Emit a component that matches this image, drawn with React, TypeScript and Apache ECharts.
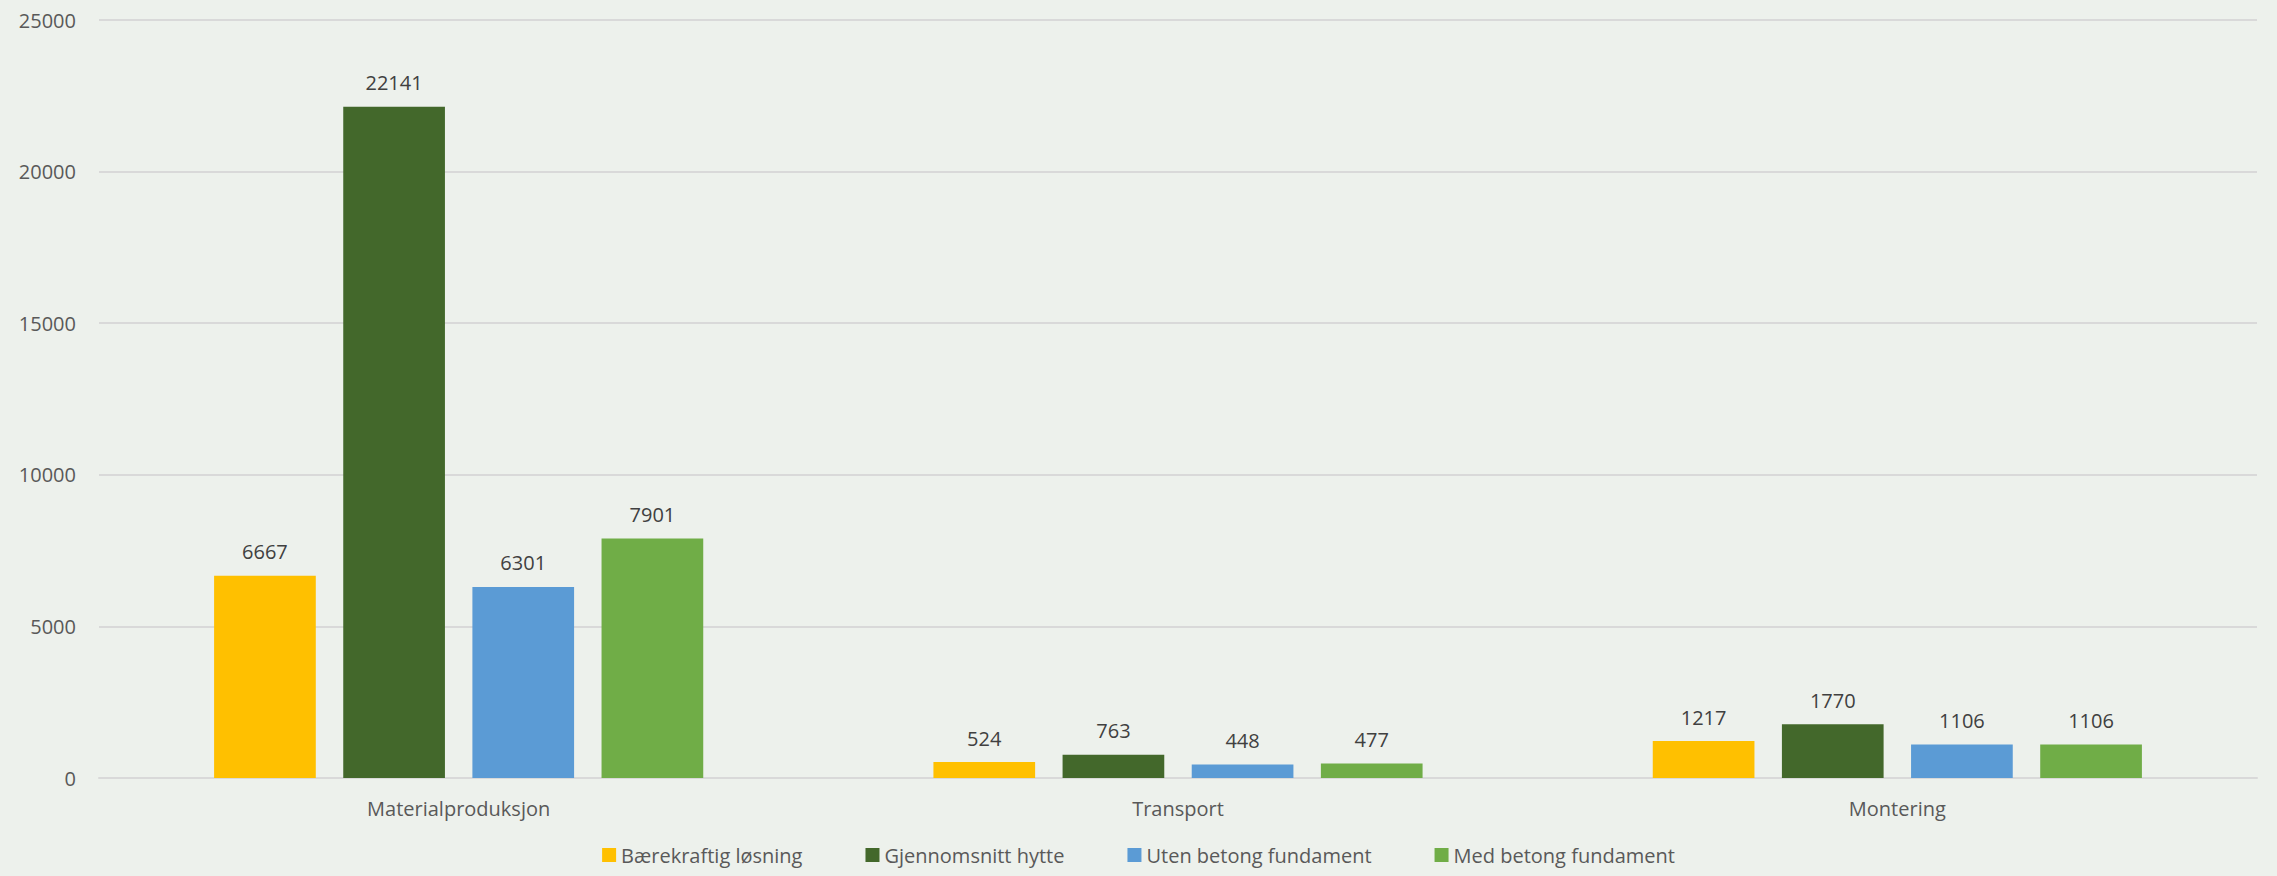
import React, { useEffect, useRef } from "react";
import * as echarts from "echarts";

const categories = ["Materialproduksjon", "Transport", "Montering"];
const seriesNames = ["Bærekraftig løsning", "Gjennomsnitt hytte", "Uten betong fundament", "Med betong fundament"];
const baerekraftig = [6667, 524, 1217];
const gjennomsnitt = [22141, 763, 1770];
const utenBetong = [6301, 448, 1106];
const medBetong = [7901, 477, 1106];
const colors = ["#FFC000", "#43682B", "#5B9BD5", "#70AD47"];

export default function App() {
  const ref = useRef<HTMLDivElement>(null);
  useEffect(() => {
    document.body.style.margin = "0";
    document.body.style.background = "#EDF1EC";
    const chart = echarts.init(ref.current!, null, { renderer: "svg" });
    const values = [baerekraftig, gjennomsnitt, utenBetong, medBetong];
    chart.setOption({
      animation: false,
      backgroundColor: "#EDF1EC",
      textStyle: { fontFamily: "Open Sans" },
      grid: { left: 99, right: 20, top: 20, bottom: 98, containLabel: false },
      legend: {
        bottom: 6,
        left: "center",
        padding: [5, 5, 5, 23],
        itemWidth: 14,
        itemHeight: 14,
        itemGap: 63,
        icon: "rect",
        textStyle: { fontSize: 20, color: "#595959", fontFamily: "Open Sans" },
        data: seriesNames,
      },
      xAxis: {
        type: "category",
        data: categories,
        axisLine: { lineStyle: { color: "#D9D9D9", width: 2 } },
        axisTick: { show: false },
        axisLabel: { fontSize: 20, color: "#595959", margin: 20 },
      },
      yAxis: {
        type: "value",
        min: 0,
        max: 25000,
        interval: 5000,
        axisLine: { show: false },
        axisTick: { show: false },
        splitLine: { lineStyle: { color: "#D9D9D9", width: 2 } },
        axisLabel: { fontSize: 20, color: "#595959", margin: 23, formatter: (v: number) => String(v) },
      },
      series: seriesNames.map((name, i) => ({
        name,
        type: "bar",
        data: values[i],
        itemStyle: { color: colors[i] },
        barGap: "27%",
        barCategoryGap: "32%",
        label: {
          show: true,
          position: "top",
          distance: 14,
          fontSize: 20,
          color: "#404040",
        },
      })),
    });
    return () => chart.dispose();
  }, []);
  return <div ref={ref} style={{ width: 2277, height: 876 }} />;
}
